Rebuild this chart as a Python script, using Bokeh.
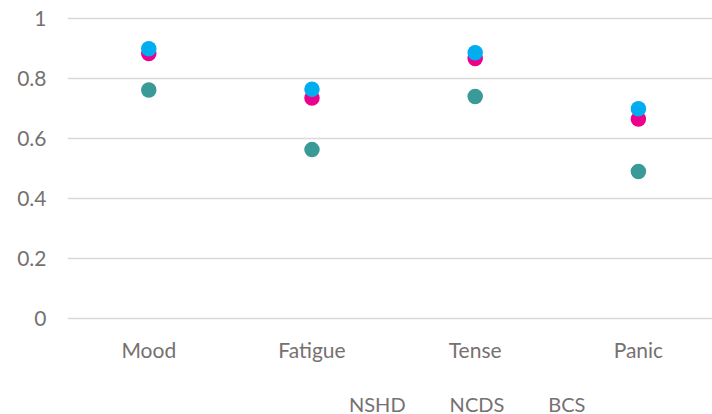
from bokeh.plotting import figure
from bokeh.layouts import column
from bokeh.models import Range1d, FixedTicker, Legend, LegendItem, ColumnDataSource
from bokeh.embed import file_html
from bokeh.resources import INLINE

categories = ["Mood", "Fatigue", "Tense", "Panic"]
nshd = [0.763, 0.564, 0.741, 0.491]
ncds = [0.884, 0.736, 0.868, 0.666]
bcs = [0.900, 0.765, 0.887, 0.700]
y_ticks = [0, 0.2, 0.4, 0.6, 0.8, 1]
y_tick_labels = ["0", "0.2", "0.4", "0.6", "0.8", "1"]
series_names = ["NSHD", "NCDS", "BCS"]
series_values = [nshd, ncds, bcs]
series_colors = ["#3A9A97", "#EC008C", "#00AEEF"]

FONT = "Lato"
TXT = "#767171"

# main chart
p = figure(width=712, height=370, output_backend="svg", toolbar_location=None,
           x_range=Range1d(-0.498, 3.454), y_range=Range1d(-0.009, 1.0077),
           min_border_left=67, min_border_top=16, min_border_right=0, min_border_bottom=49)
p.outline_line_color = None
p.background_fill_color = "white"

xs = list(range(len(categories)))
for name, vals, col in zip(series_names, series_values, series_colors):
    src = ColumnDataSource(dict(x=xs, y=vals))
    p.scatter("x", "y", source=src, size=15.5, fill_color=col, line_color=None, marker="circle")

p.xaxis.ticker = FixedTicker(ticks=xs)
p.xaxis.major_label_overrides = {i: c for i, c in enumerate(categories)}
p.yaxis.ticker = FixedTicker(ticks=y_ticks)
p.yaxis.major_label_overrides = {t: l for t, l in zip(y_ticks, y_tick_labels)}
for ax in (p.xaxis, p.yaxis):
    ax.axis_line_color = None
    ax.major_tick_line_color = None
    ax.minor_tick_line_color = None
    ax.major_label_text_font = FONT
    ax.major_label_text_font_size = "21px"
    ax.major_label_text_color = TXT
p.yaxis.major_label_standoff = 15
p.xaxis.major_label_standoff = 9

p.xgrid.grid_line_color = None
p.ygrid.grid_line_color = "#D9D9D9"
p.ygrid.grid_line_width = 1.3

# legend strip
lf = figure(width=712, height=44, output_backend="svg", toolbar_location=None,
            x_range=Range1d(0, 1), y_range=Range1d(0, 1),
            x_axis_location=None, y_axis_location=None, min_border=0)
lf.outline_line_color = None
lf.grid.visible = False
items = []
for name, col in zip(series_names, series_colors):
    r = lf.scatter(x=[], y=[], size=15.5, fill_color=col, line_color=None, marker="circle")
    items.append(LegendItem(label=name, renderers=[r]))

legend = Legend(items=items, orientation="horizontal", location=(243, -9),
                label_text_font=FONT, label_text_font_size="20px", label_text_color=TXT,
                glyph_width=39, glyph_height=39, label_standoff=-6, spacing=5,
                border_line_color=None, background_fill_alpha=0, padding=0, margin=0)
lf.add_layout(legend, "center")

layout = column(p, lf, spacing=0)
open("out.html", "w").write(file_html(layout, INLINE))
